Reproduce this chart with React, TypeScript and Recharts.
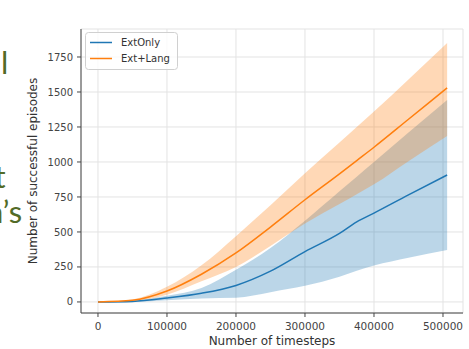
import React from 'react';
import { ComposedChart, Area, Line, XAxis, YAxis, CartesianGrid, Label } from 'recharts';

const timesteps = [0, 50000, 100000, 150000, 200000, 250000, 300000, 350000, 375000, 400000, 450000, 506000];
const extOnlyMean = [0, 4, 28, 62, 118, 220, 360, 490, 572, 635, 765, 907];
const extOnlyLow = [0, 1, 12, 25, 30, 70, 115, 180, 222, 260, 316, 371];
const extOnlyHigh = [0, 8, 45, 100, 230, 385, 580, 790, 895, 1000, 1210, 1443];
const extLangMean = [0, 12, 78, 198, 350, 535, 730, 915, 1010, 1105, 1305, 1529];
const extLangLow = [0, 7, 52, 148, 250, 400, 560, 700, 770, 840, 1005, 1186];
const extLangHigh = [0, 18, 108, 262, 470, 690, 920, 1140, 1250, 1360, 1590, 1850];

const xTicks = [0, 100000, 200000, 300000, 400000, 500000];
const yTicks = [0, 250, 500, 750, 1000, 1250, 1500, 1750];
const seriesNames = ['ExtOnly', 'Ext+Lang'];
const title = 'All tasks';
const xLabel = 'Number of timesteps';
const yLabel = 'Number of successful episodes';

const BLUE = '#1f77b4';
const ORANGE = '#ff7f0e';
const FONT = 'DejaVu Sans, sans-serif';

const data = timesteps.map((t, i) => ({
  t,
  bMean: extOnlyMean[i],
  bBand: [extOnlyLow[i], extOnlyHigh[i]],
  oMean: extLangMean[i],
  oBand: [extLangLow[i], extLangHigh[i]],
}));

export default function App() {
  return (
    <div style={{ position: 'absolute', left: 0, top: 0, width: 469, height: 349, background: '#fff', overflow: 'hidden' }}>
      <ComposedChart width={469} height={349} data={data} margin={{ top: 29, right: 6, bottom: 0, left: 0 }}>
        <CartesianGrid stroke="#e3e3e3" strokeWidth={1} />
        <XAxis
          dataKey="t"
          type="number"
          domain={[-24600, 529000]}
          allowDataOverflow
          ticks={xTicks}
          height={36}
          tickSize={4}
          tickMargin={6}
          stroke="#444"
          tick={{ fontFamily: FONT, fontSize: 10.5, fill: '#444' }}
        >
          <Label value={xLabel} position="insideBottom" offset={4} style={{ fontFamily: FONT, fontSize: 12, fill: '#333' }} />
        </XAxis>
        <XAxis
          xAxisId="top"
          orientation="top"
          dataKey="t"
          type="number"
          domain={[-24600, 529000]}
          allowDataOverflow
          height={0}
          tick={false}
          tickLine={false}
          axisLine={{ stroke: '#444' }}
        >
          <Label value={title} position="top" offset={7} style={{ fontFamily: FONT, fontSize: 12, fill: '#222' }} />
        </XAxis>
        <YAxis
          type="number"
          domain={[-79, 1950]}
          allowDataOverflow
          ticks={yTicks}
          width={81}
          tickSize={4}
          tickMargin={4}
          stroke="#444"
          tick={{ fontFamily: FONT, fontSize: 10, fill: '#444' }}
        >
          <Label
            value={yLabel}
            angle={-90}
            position="insideLeft"
            offset={33}
            style={{ fontFamily: FONT, fontSize: 12, fill: '#333', textAnchor: 'middle' }}
          />
        </YAxis>
        <YAxis
          yAxisId="right"
          orientation="right"
          domain={[0, 1]}
          width={0}
          tick={false}
          tickLine={false}
          axisLine={{ stroke: '#444' }}
        />
        <Area
          type="monotone"
          dataKey="bBand"
          stroke="none"
          fill={BLUE}
          fillOpacity={0.3}
          isAnimationActive={false}
          activeDot={false}
        />
        <Area
          type="monotone"
          dataKey="oBand"
          stroke="none"
          fill={ORANGE}
          fillOpacity={0.3}
          isAnimationActive={false}
          activeDot={false}
        />
        <Line type="monotone" dataKey="bMean" stroke={BLUE} strokeWidth={1.5} dot={false} activeDot={false} isAnimationActive={false} />
        <Line type="monotone" dataKey="oMean" stroke={ORANGE} strokeWidth={1.5} dot={false} activeDot={false} isAnimationActive={false} />
      </ComposedChart>
      <svg width={469} height={349} style={{ position: 'absolute', left: 0, top: 0, pointerEvents: 'none' }}>
        <g fill="#526b27" fontFamily="Lato, sans-serif" fontSize={31}>
          <text x={1} y={74}>l</text>
          <text x={-5.5} y={188}>t</text>
          <text x={-14} y={223}>n’s</text>
        </g>
        <rect x={85.5} y={32.5} width={92} height={37} rx={3} fill="#fff" fillOpacity={0.8} stroke="#d0d0d0" />
        <line x1={90} x2={112} y1={42.5} y2={42.5} stroke={BLUE} strokeWidth={1.5} />
        <line x1={90} x2={112} y1={58.5} y2={58.5} stroke={ORANGE} strokeWidth={1.5} />
        <text x={121} y={46} fontFamily={FONT} fontSize={10} fill="#333">{seriesNames[0]}</text>
        <text x={121} y={62} fontFamily={FONT} fontSize={10} fill="#333">{seriesNames[1]}</text>
      </svg>
    </div>
  );
}
